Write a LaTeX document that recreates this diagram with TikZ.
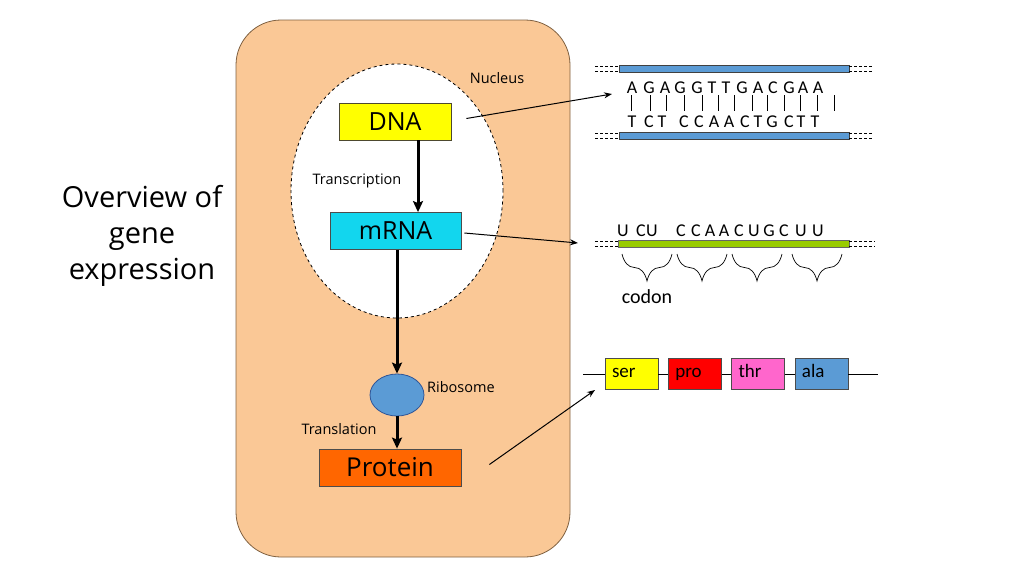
\documentclass[tikz,border=0pt]{standalone}
\usepackage{fontspec}
\setmainfont{Open Sans}
\newfontfamily\seqfont{Carlito}
\usetikzlibrary{positioning,arrows.meta,shapes.geometric,decorations.pathreplacing}

\definecolor{cellpeach}{HTML}{FAC896}
\definecolor{celledge}{HTML}{7F6040}
\definecolor{dnayellow}{HTML}{FFFF00}
\definecolor{mrnacyan}{HTML}{12D6EE}
\definecolor{protorange}{HTML}{FF6600}
\definecolor{ribblue}{HTML}{5B9BD5}
\definecolor{ribedge}{HTML}{2F5597}
\definecolor{rnagreen}{HTML}{99CC00}
\definecolor{thrpink}{HTML}{FF66CC}

\begin{document}
\begin{tikzpicture}[x=1pt,y=-1pt,
  box/.style={draw=black!70,line width=0.8pt,minimum height=37pt,font=\fontsize{25}{25}\selectfont},
  lbl/.style={font=\fontsize{14.5}{14.5}\selectfont},
  flow/.style={line width=3pt,-{Stealth[length=11pt,width=10pt,inset=2pt]}},
  point/.style={line width=1pt,-{Stealth[length=8pt,width=6pt]}},
  seq/.style={font=\seqfont\fontsize{18}{18}\selectfont,inner sep=0pt},
  acid/.style={draw=black!70,line width=0.8pt,minimum width=53pt,minimum height=31pt,
    text width=39pt,text height=10pt,text depth=4pt,inner sep=7pt,align=left,
    font=\seqfont\fontsize{19}{19}\selectfont},
  strand/.style={draw=black!75,line width=0.8pt},
  tail/.style={dashed,dash pattern=on 3pt off 2pt,line width=0.7pt}]

\useasboundingbox (0,0) rectangle (1024,576);

% cell and nucleus
\draw[fill=cellpeach,draw=celledge,line width=0.8pt,rounded corners=45pt] (236,20) rectangle (570,557);
\draw[fill=white,dashed,line width=0.8pt] (397,191) ellipse [x radius=106pt,y radius=127pt];

\node[align=center,font=\fontsize{29}{36}\selectfont] (title) at (142,236) {Overview of\\gene\\expression};

\node[box,fill=dnayellow,draw=black!60!olive,minimum width=112pt] (dna) at (395,121.5) {DNA};
\node[box,fill=mrnacyan,minimum width=131pt] (mrna) at (395.5,231) {mRNA};
\node[ellipse,fill=ribblue,draw=ribedge,line width=0.8pt,minimum width=54pt,minimum height=42pt] (rib) at (397,395) {};
\node[box,fill=protorange,minimum width=142pt,font=\fontsize{26}{26}\selectfont] (prot) at (390,467.5) {Protein};

\node[lbl] (nuc) at (497,78) {Nucleus};
\node[lbl] (trans) at (357,181) {Transcription};
\node[lbl] (ribl) at (461,387) {Ribosome};
\node[lbl] (transl) at (339,429) {Translation};

\coordinate (t1) at ([xshift=23pt]dna.south);
\draw[flow] (t1) -- (t1 |- mrna.north);
\draw[flow] (mrna.south -| rib.north) -- (rib.north);
\draw[flow] (rib.south) -- (rib.south |- prot.north);

% pointers to the strands
\coordinate (dnaseq) at (612,94);
\coordinate (rnaseq) at (578,243);
\coordinate (protseq) at (595,390);
\draw[point] ([xshift=15pt,yshift=3pt]dna.east) -- (dnaseq);
\draw[point] ([xshift=3pt,yshift=-2pt]mrna.east) -- (rnaseq);
\draw[point] ([xshift=28pt,yshift=3pt]prot.east) -- (protseq);

% DNA double strand
\draw[strand,fill=ribblue] (619,65) rectangle (849,72);
\draw[strand,fill=ribblue] (619,132) rectangle (849,139);
\foreach \y in {66,71,133,138}{
  \draw[tail] (595,\y) -- (619,\y);
  \draw[tail] (849,\y) -- (872,\y);
}
\foreach \l/\x in {A/632,G/649,A/665,G/680,G/697,T/712,T/726,G/742,A/758,C/773,G/789,A/803,A/818}
  \node[seq] at (\x,88) {\l};
\foreach \x in {631,650,666,684,702,718,734,752,767,784,800,817,834}
  \draw[line width=0.7pt] (\x,95) -- (\x,111);
\foreach \l/\x in {T/632,C/649,T/662,C/684,C/699,A/714,A/729,C/745,T/758,G/772,C/789,T/801,T/815}
  \node[seq] at (\x,122) {\l};

% mRNA strand
\draw[strand,draw=black!60,fill=rnagreen] (618,240) rectangle (849,247);
\foreach \y in {241,246}{
  \draw[tail] (595,\y) -- (618,\y);
  \draw[tail] (849,\y) -- (875,\y);
}
\foreach \l/\x in {U/623,C/641,U/652,C/681,C/696,A/710,A/724,C/739,U/754,G/769,C/784,U/801,U/818}
  \node[seq] at (\x,231) {\l};
\foreach \a/\b in {622/672,677/727,732/782,792/842}
  \draw[line width=0.7pt,decorate,decoration={brace,amplitude=27pt}] (\b,254) -- (\a,254);
\node[seq,font=\seqfont\fontsize{20}{20}\selectfont] (codon) at (647,297) {codon};

% amino acid chain
\node[acid,fill=dnayellow] (ser) at (631.5,374) {ser};
\node[acid,fill=red,right=9.5pt of ser] (pro) {pro};
\node[acid,fill=thrpink,right=9.5pt of pro] (thr) {thr};
\node[acid,fill=ribblue,right=9.5pt of thr] (ala) {ala};
\coordinate (chainL) at (583,374);
\coordinate (chainR) at (878,374);
\draw[line width=0.8pt] (chainL) -- (ser.west) (ser.east) -- (pro.west)
  (pro.east) -- (thr.west) (thr.east) -- (ala.west) (ala.east) -- (chainR);
\end{tikzpicture}
\end{document}
